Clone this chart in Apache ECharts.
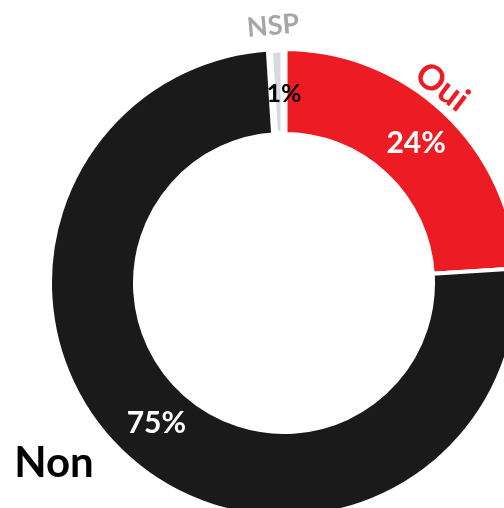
<!DOCTYPE html>
<html>
<head>
<meta charset="utf-8">
<script src="https://cdn.jsdelivr.net/npm/echarts@6/dist/echarts.min.js"></script>
<style>
  html, body { margin: 0; padding: 0; background: #ffffff; }
  #chart { width: 504px; height: 508px; }
</style>
</head>
<body>
<div id="chart"></div>
<script>
// Réponses au sondage
const categories = ['Oui', 'Non', 'NSP'];
const values = [24, 75, 1];
const sliceColors = ['#ED1C24', '#1A1A1A', '#D9D9D9'];
const valueLabelColors = ['#FFFFFF', '#FFFFFF', '#000000'];

const FONT = 'Lato, "Open Sans", sans-serif';

const chart = echarts.init(document.getElementById('chart'), null, { renderer: 'canvas' });

// fine placement of each percentage inside its ring segment
const labelOffsets = [[-1, 2], [1, -6], [6, 5]];
const labelSizes = [30, 30, 25];

const data = categories.map((name, i) => ({
  name: name,
  value: values[i],
  itemStyle: { color: sliceColors[i], borderWidth: i === 2 ? 7 : 4 },
  label: { color: valueLabelColors[i], fontSize: labelSizes[i], offset: labelOffsets[i] }
}));

chart.setOption({
  animation: false,
  backgroundColor: '#ffffff',
  series: [{
    type: 'pie',
    center: [284, 283],
    radius: [149, 234],
    startAngle: 90,
    clockwise: true,
    avoidLabelOverlap: false,
    itemStyle: { borderColor: '#ffffff', borderWidth: 4 },
    label: {
      show: true,
      position: 'inside',
      formatter: '{c}%',
      fontFamily: FONT,
      fontWeight: 'bold'
    },
    labelLine: { show: false },
    emphasis: { disabled: true },
    data: data
  }],
  graphic: [
    { type: 'text', x: 273, y: 26, rotation: 5 * Math.PI / 180,
      style: { text: categories[2], fill: '#A6A6A6', font: 'bold 27px ' + FONT, align: 'center', verticalAlign: 'middle' } },
    { type: 'text', x: 442, y: 87, rotation: -37 * Math.PI / 180,
      style: { text: categories[0], fill: '#ED1C24', font: 'bold 35px ' + FONT, align: 'center', verticalAlign: 'middle' } },
    { type: 'text', x: 54, y: 463,
      style: { text: categories[1], fill: '#000000', font: 'bold 42px ' + FONT, align: 'center', verticalAlign: 'middle' } }
  ]
});
</script>
</body>
</html>
